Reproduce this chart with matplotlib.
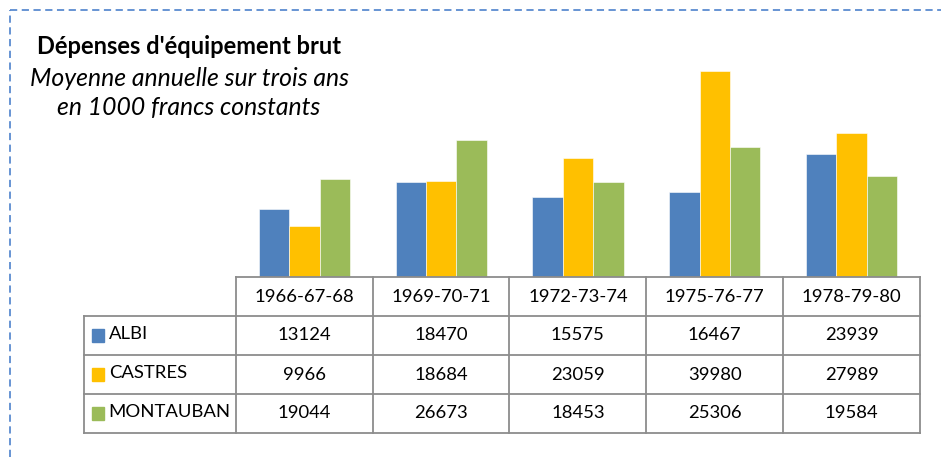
import matplotlib.pyplot as plt
from matplotlib.lines import Line2D
from matplotlib.patches import Rectangle
import numpy as np

# data
periods = ["1966-67-68", "1969-70-71", "1972-73-74", "1975-76-77", "1978-79-80"]
villes = ["ALBI", "CASTRES", "MONTAUBAN"]
albi = [13124, 18470, 15575, 16467, 23939]
castres = [9966, 18684, 23059, 39980, 27989]
montauban = [19044, 26673, 18453, 25306, 19584]
couleurs = ["#4F81BD", "#FFC000", "#9BBB59"]

plt.rcParams["font.family"] = ["Lato", "DejaVu Sans"]

W, H = 941, 457
fig = plt.figure(figsize=(W / 100, H / 100), dpi=100)

def box(x0, y0, x1, y1):
    # pixel box (top-left origin) -> figure fraction rect
    return [x0 / W, 1 - y1 / H, (x1 - x0) / W, (y1 - y0) / H]

# dashed frame
frame = dict(color="#5B8BD0", lw=1.3, linestyle=(0, (4, 2.5)))
fig.add_artist(Line2D([10 / W, 1], [1 - 10 / H] * 2, transform=fig.transFigure, **frame))
fig.add_artist(Line2D([10 / W] * 2, [0, 1 - 10 / H], transform=fig.transFigure, **frame))

# bars
ax = fig.add_axes(box(236, 40, 920, 277))
x = np.arange(len(periods))
bw = 0.222
series = [albi, castres, montauban]
for i, (vals, c) in enumerate(zip(series, couleurs)):
    ax.bar(x + (i - 1) * bw, vals, bw, color=c, edgecolor="white", linewidth=0.4)
ax.set_xlim(-0.5, len(periods) - 0.5)
ax.set_ylim(0, 46000)
ax.axis("off")

# data table
label_w = (236 - 84) / 137
tb = fig.add_axes(box(84, 277, 920, 433))
tb.set_xlim(-0.5 - label_w, len(periods) - 0.5)
tb.set_ylim(4, 0)
tb.axis("off")
gris = "#8C8C8C"
lw = 1.3
left = -0.5 - label_w
right = len(periods) - 0.5
# horizontal lines
tb.plot([-0.5, right], [0, 0], color=gris, lw=lw, clip_on=False)
for r in range(1, 5):
    tb.plot([left, right], [r, r], color=gris, lw=lw, clip_on=False)
# vertical lines
tb.plot([left, left], [1, 4], color=gris, lw=lw, clip_on=False)
for k in range(len(periods) + 1):
    tb.plot([k - 0.5, k - 0.5], [0, 4], color=gris, lw=lw, clip_on=False)

fs = 13.3
for j, p in enumerate(periods):
    tb.text(j, 0.5, p, ha="center", va="center", fontsize=fs)
for i, (v, vals, c) in enumerate(zip(villes, series, couleurs)):
    tb.add_patch(Rectangle((left + 0.06, i + 1.33), 0.088, 0.34, color=c))
    tb.text(left + 0.18, i + 1.47, v, ha="left", va="center", fontsize=fs)
    for j, val in enumerate(vals):
        tb.text(j, i + 1.5, str(val), ha="center", va="center", fontsize=fs)

# titles
cx = 189 / W
fig.text(cx, 1 - 47 / H, "Dépenses d'équipement brut", ha="center", va="center",
         fontsize=17, fontweight="bold")
fig.text(cx, 1 - 78 / H, "Moyenne annuelle sur trois ans", ha="center", va="center",
         fontsize=17.8, style="italic")
fig.text(cx, 1 - 107 / H, "en 1000 francs constants", ha="center", va="center",
         fontsize=17.8, style="italic")

fig.savefig("out.png", dpi=100)
